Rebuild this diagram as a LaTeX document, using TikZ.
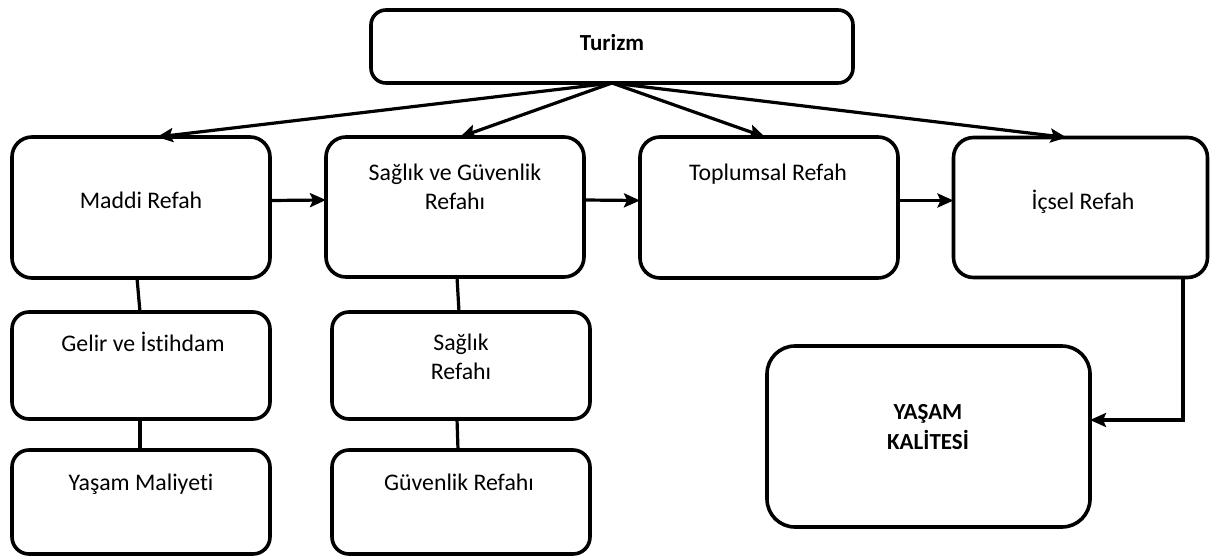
\documentclass[tikz,border=0pt]{standalone}
\usepackage{fontspec}
\setmainfont[Ligatures=NoCommon]{Carlito}
\usetikzlibrary{arrows.meta}
\begin{document}
\begin{tikzpicture}[x=1pt,y=-1pt,
  box/.style={draw=black,line width=3.6pt,rounded corners=20pt,inner sep=0pt,outer sep=0pt,fill=white},
  txt/.style={anchor=base,align=center,inner sep=0pt,font=\fontsize{23.8}{28.5}\selectfont},
  conn/.style={line width=3.2pt},
  arr/.style={conn,-{Stealth[length=16pt,width=14pt,inset=3pt]}}]
\useasboundingbox (0,0) rectangle (1210,557);
% boxes
\node[box,rounded corners=15pt,minimum width=482pt,minimum height=73pt] (turizm) at (612,46.5) {};
\node[box,minimum width=258pt,minimum height=141pt] (maddi) at (141,207.5) {};
\node[box,minimum width=258pt,minimum height=140pt] (saglik) at (455,207) {};
\node[box,minimum width=258pt,minimum height=141pt] (toplum) at (769,207.5) {};
\node[box,minimum width=254pt,minimum height=140pt] (icsel) at (1080.5,207.5) {};
\node[box,rounded corners=17pt,minimum width=258pt,minimum height=107pt] (gelir) at (141,365.5) {};
\node[box,rounded corners=17pt,minimum width=258pt,minimum height=104pt] (maliyet) at (141,502) {};
\node[box,rounded corners=17pt,minimum width=258pt,minimum height=107pt] (sagref) at (461,365.5) {};
\node[box,rounded corners=17pt,minimum width=258pt,minimum height=104pt] (guven) at (461,502) {};
\node[box,rounded corners=28pt,minimum width=323pt,minimum height=181pt] (yasam) at (928.5,436.5) {};
% texts
\node[txt,font=\fontsize{23}{28.5}\selectfont\bfseries] (tturizm) at (612,50) {Turizm};
\node[txt] (tmaddi) at (141,208) {Maddi Refah};
\node[txt] (tsaglik) at (455,209) {Sağlık ve Güvenlik\\Refahı};
\node[txt] (ttoplum) at (768,180) {Toplumsal Refah};
\node[txt] (ticsel) at (1083,209) {İçsel Refah};
\node[txt] (tgelir) at (143,351) {Gelir ve İstihdam};
\node[txt] (tsagref) at (461,379) {Sağlık\\Refahı};
\node[txt] (tmaliyet) at (141,490) {Yaşam Maliyeti};
\node[txt] (tguven) at (459,490) {Güvenlik Refahı};
\node[txt,font=\fontsize{23}{30}\selectfont\bfseries] (tyasam) at (928,449) {YAŞAM\\KALİTESİ};
% connectors from Turizm
\draw[arr] (turizm.south) -- ([xshift=16pt]maddi.north);
\draw[arr] (turizm.south) -- ([xshift=5pt]saglik.north);
\draw[arr] (turizm.south) -- ([xshift=-4pt]toplum.north);
\draw[arr] (turizm.south) -- ([xshift=-14pt]icsel.north);
% horizontal arrows
\draw[arr] ([yshift=7pt]maddi.east) -- ([yshift=7pt]saglik.west);
\draw[arr] ([yshift=7pt]saglik.east) -- ([yshift=7pt]toplum.west);
\draw[arr] ([yshift=7pt]toplum.east) -- ([yshift=7pt]icsel.west);
% vertical links
\draw[conn] ([xshift=-4pt]maddi.south) -- ([xshift=-1pt]gelir.north);
\draw[conn] ([xshift=-1pt]gelir.south) -- ([xshift=-1pt]maliyet.north);
\draw[conn] ([xshift=2pt]saglik.south) -- ([xshift=-2pt]sagref.north);
\draw[conn] ([xshift=-4pt]sagref.south) -- ([xshift=-3pt]guven.north);
% to Yaşam Kalitesi
\draw[arr] ([xshift=102.5pt]icsel.south) |- ([yshift=16.5pt]yasam.east);
\end{tikzpicture}
\end{document}
